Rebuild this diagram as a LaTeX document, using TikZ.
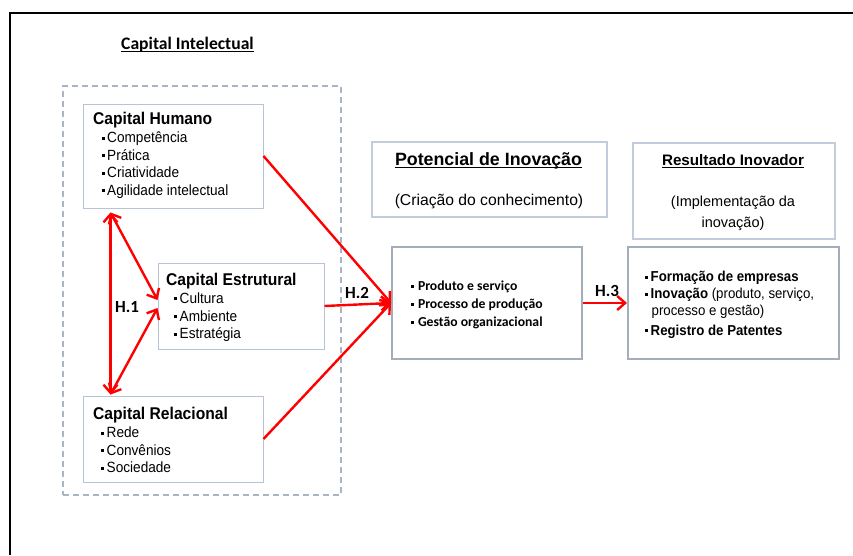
\documentclass[tikz,border=0pt]{standalone}
\usepackage{fontspec}
\setmainfont{Liberation Sans}[FakeStretch=0.92]
\newfontfamily\wfont{Liberation Sans}
\newfontfamily\cfont{Carlito}
\usetikzlibrary{arrows.meta,calc}
\definecolor{boxline}{HTML}{B6C4D6}
\definecolor{hdline}{HTML}{C2CCDA}
\definecolor{boxdark}{HTML}{A3ADBB}
\definecolor{dashc}{HTML}{A9B5C5}
\newcommand\bsq{\rule[2.6pt]{3pt}{3pt}\hspace{2.5pt}}
\newcommand\bsqs{\rule[2.4pt]{2.8pt}{2.8pt}\hspace{4pt}}
\newcommand\ulx[2]{\setbox0\hbox{#2}\rlap{\rule[-#1]{\wd0}{1.3pt}}\box0}
\begin{document}
\begin{tikzpicture}[x=1pt,y=-1pt,
  capbox/.style={draw=boxline,line width=1pt,fill=white,inner sep=0},
  hdbox/.style={draw=hdline,line width=1.4pt,fill=white,inner sep=0},
  mainbox/.style={draw=boxdark,line width=2pt,fill=white,inner sep=0},
  dashbox/.style={draw=dashc,line width=2pt,dash pattern=on 6pt off 4pt,inner sep=0},
  txt/.style={anchor=base west,inner sep=0},
  ctxt/.style={anchor=base,inner sep=0},
  ttl/.style={txt,font=\fontsize{17}{20}\selectfont\bfseries},
  itm/.style={txt,font=\fontsize{14.8}{17}\selectfont},
  ritm/.style={txt,font=\fontsize{14.4}{17}\selectfont},
  mitm/.style={txt,font=\cfont\fontsize{13.7}{16}\selectfont\bfseries},
  hlab/.style={txt,font=\cfont\fontsize{17}{20}\selectfont\bfseries},
  redarr/.style={draw=red,line width=2.4pt,-{Straight Barb[length=8pt,width=14pt]}},
  redboth/.style={draw=red,line width=2.4pt,{Straight Barb[length=8pt,width=14pt]}-{Straight Barb[length=8pt,width=14pt]}}
]
\useasboundingbox (0,0) rectangle (853,555);
% frame
\draw[line width=2.5pt] (10,555) -- (10,13) -- (853,13);

% title
\node[ctxt,font=\cfont\fontsize{17.6}{20}\selectfont\bfseries] (ttl) at (187.5,49) {\ulx{3pt}{Capital Intelectual}};

% dashed container
\node[dashbox,minimum width=278pt,minimum height=409pt] (ci) at (202,290.5) {};

% capital boxes
\node[capbox,minimum width=180pt,minimum height=104pt] (hum) at (173,156) {};
\node[capbox,minimum width=166pt,minimum height=86pt] (est) at (241,306) {};
\node[capbox,minimum width=180pt,minimum height=86pt] (rel) at (173,439) {};

\node[ttl] (ht) at (93,124) {Capital Humano};
\node[itm] (h1) at (101.5,142.5) {\bsq Competência};
\node[itm] (h2) at (101.5,160) {\bsq Prática};
\node[itm] (h3) at (101.5,177.5) {\bsq Criatividade};
\node[itm] (h4) at (101.5,195) {\bsq Agilidade intelectual};

\node[ttl] (et) at (166,285) {Capital Estrutural};
\node[itm] (e1) at (174,303) {\bsq Cultura};
\node[itm] (e2) at (174,321) {\bsq Ambiente};
\node[itm] (e3) at (174,338.5) {\bsq Estratégia};

\node[ttl] (rt) at (93,419) {Capital Relacional};
\node[itm] (r1) at (101,437.5) {\bsq Rede};
\node[itm] (r2) at (101,455) {\bsq Convênios};
\node[itm] (r3) at (101,472.5) {\bsq Sociedade};

% heading boxes
\node[hdbox,minimum width=235pt,minimum height=75pt] (pot) at (489.5,179.5) {};
\node[ctxt,font=\wfont\fontsize{17.8}{20}\selectfont\bfseries] (pt) at (488.5,165) {\ulx{3pt}{Potencial de Inovação}};
\node[ctxt,font=\wfont\fontsize{15.7}{18}\selectfont] (pc) at (489,205.5) {(Criação do conhecimento)};

\node[hdbox,minimum width=202pt,minimum height=96pt] (resh) at (734,191) {};
\node[ctxt,font=\wfont\fontsize{15.2}{18}\selectfont\bfseries] (rst) at (733,165) {\ulx{3pt}{Resultado Inovador}};
\node[ctxt,font=\wfont\fontsize{14.5}{17}\selectfont] (ri1) at (733,206) {(Implementação da};
\node[ctxt,font=\wfont\fontsize{14.5}{17}\selectfont] (ri2) at (733,227.5) {inovação)};

% main boxes
\node[mainbox,minimum width=190pt,minimum height=112pt] (mid) at (487,303) {};
\node[mitm] (m1) at (411,290.5) {\bsqs Produto e serviço};
\node[mitm] (m2) at (411,308.5) {\bsqs Processo de produção};
\node[mitm] (m3) at (411,326.5) {\bsqs Gestão organizacional};

\node[mainbox,minimum width=211pt,minimum height=112pt] (res) at (733.5,303) {};
\node[ritm] (f1) at (645,281.5) {\bsq\textbf{Formação de empresas}};
\node[ritm] (f2) at (645,298.5) {\bsq\textbf{Inovação} (produto, serviço,};
\node[ritm] (f3) at (651.5,315.5) {processo e gestão)};
\node[ritm] (f4) at (645,335) {\bsq\textbf{Registro de Patentes}};

% H.1 triangle
\coordinate (A) at ($(hum.south west)+(28,4)$);
\coordinate (B) at ($(rel.north west)+(28,-1)$);
\coordinate (C1) at ($(est.west)+(0,-6)$);
\coordinate (C2) at ($(est.west)+(0,2)$);
\draw[redboth] (A) -- (B);
\draw[redboth] (A) -- (C1);
\draw[redboth] (B) -- (C2);
\node[hlab] (H1) at (115,312.5) {H.1};

% H.2
\draw[redarr] (hum.east) -- (mid.west);
\draw[redarr] (est.east) -- (mid.west);
\draw[redarr] (rel.east) -- (mid.west);
\node[hlab] (H2) at (345,298) {H.2};

% H.3
\draw[redarr] (mid.east) -- (res.west);
\node[hlab] (H3) at (595,296) {H.3};
\end{tikzpicture}
\end{document}
